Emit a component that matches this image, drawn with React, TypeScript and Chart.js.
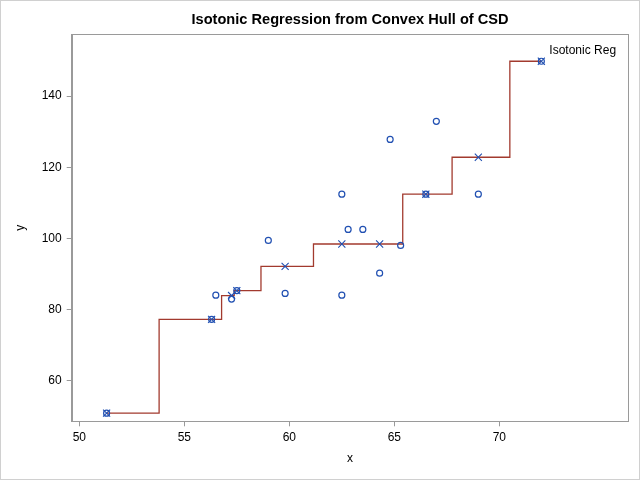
import React, { useEffect, useRef } from "react";
import { Chart, registerables } from "chart.js";

Chart.register(...registerables);

const titleText = "Isotonic Regression from Convex Hull of CSD";
const curveLabel = "Isotonic Reg";

const obsX = [51.3, 56.3, 56.5, 57.25, 57.5, 59.0, 59.8, 62.5, 62.5, 62.8, 63.5, 64.3, 64.8, 65.3, 66.5, 67.0, 69.0, 72.0];
const obsY = [50.8, 77.2, 84.0, 82.9, 85.3, 99.4, 84.5, 112.4, 84.0, 102.5, 102.5, 90.2, 127.8, 98.0, 112.4, 132.9, 112.4, 149.8];

const fitX = [51.3, 56.3, 57.25, 57.5, 59.8, 62.5, 64.3, 66.5, 69.0, 72.0];
const fitY = [50.8, 77.2, 83.9, 85.3, 92.1, 98.4, 98.4, 112.4, 122.8, 149.8];

const xTicks = [50, 55, 60, 65, 70];
const yTicks = [60, 80, 100, 120, 140];

const FONT = "'Liberation Sans', Arial, sans-serif";
const BLUE = "#2150B2";
const RED = "#A23A2E";
const GRAY = "#9a9a9a";

export default function App() {
  const ref = useRef<HTMLCanvasElement | null>(null);

  useEffect(() => {
    document.body.style.margin = "0";
    const canvas = ref.current;
    if (!canvas) return;

    const framePlugin = {
      id: "frame",
      afterDraw(chart: any) {
        const { ctx, chartArea } = chart;
        ctx.save();
        ctx.strokeStyle = GRAY;
        ctx.lineWidth = 1;
        ctx.strokeRect(
          Math.round(chartArea.left) + 0.5,
          Math.round(chartArea.top) + 0.5,
          Math.round(chartArea.right - chartArea.left) - 1,
          Math.round(chartArea.bottom - chartArea.top)
        );
        ctx.strokeStyle = "#d0d0d0";
        ctx.strokeRect(0.5, 0.5, chart.width - 1, chart.height - 1);
        const xs = chart.scales.x;
        const ys = chart.scales.y;
        const lx = xs.getPixelForValue(fitX[fitX.length - 1]);
        const ly = ys.getPixelForValue(fitY[fitY.length - 1]);
        ctx.fillStyle = "#000";
        ctx.font = `12px ${FONT}`;
        ctx.textAlign = "left";
        ctx.textBaseline = "middle";
        ctx.fillText(curveLabel, lx + 8, ly - 11);
        ctx.restore();
      },
    };

    const chart = new Chart(canvas, {
      type: "scatter",
      data: {
        datasets: [
          {
            label: "Observed",
            data: obsX.map((x, i) => ({ x, y: obsY[i] })),
            pointStyle: "circle",
            pointRadius: 3,
            borderColor: BLUE,
            backgroundColor: "rgba(0,0,0,0)",
            borderWidth: 1.2,
          } as any,
          {
            label: "Fitted",
            data: fitX.map((x, i) => ({ x, y: fitY[i] })),
            pointStyle: "crossRot",
            pointRadius: 5,
            borderColor: BLUE,
            backgroundColor: BLUE,
            borderWidth: 1.1,
          } as any,
          {
            type: "line",
            label: curveLabel,
            data: fitX.map((x, i) => ({ x, y: fitY[i] })),
            stepped: "middle",
            borderColor: RED,
            borderWidth: 1.3,
            pointRadius: 0,
            fill: false,
          } as any,
        ],
      },
      options: {
        responsive: false,
        animation: false,
        devicePixelRatio: 1,
        layout: { padding: { left: 0, right: 11.7, top: 0, bottom: 0 } },
        plugins: {
          legend: { display: false },
          tooltip: { enabled: false },
          title: {
            display: true,
            text: titleText,
            fullSize: false,
            color: "#000",
            font: { family: FONT, size: 14.6, weight: "bold", lineHeight: 1.2 },
            padding: { top: 11, bottom: 5.8 },
          },
        },
        scales: {
          x: {
            type: "linear",
            min: 49.638,
            max: 76.14,
            afterFit(scale: any) {
              scale.height = 58.7;
            },
            afterBuildTicks(scale: any) {
              scale.ticks = xTicks.map((v) => ({ value: v }));
            },
            grid: {
              display: true,
              drawOnChartArea: false,
              drawTicks: true,
              tickLength: 5,
              color: GRAY,
            },
            border: { display: true, color: GRAY, width: 1 },
            ticks: {
              color: "#000",
              padding: 4,
              font: { family: FONT, size: 12 },
              maxRotation: 0,
            },
            title: {
              display: true,
              text: "x",
              color: "#000",
              font: { family: FONT, size: 12 },
              padding: { top: 0, bottom: 13.8 },
            },
          },
          y: {
            type: "linear",
            min: 48.52,
            max: 157.38,
            afterFit(scale: any) {
              scale.width = 71.7;
            },
            afterBuildTicks(scale: any) {
              scale.ticks = yTicks.map((v) => ({ value: v }));
            },
            grid: {
              display: true,
              drawOnChartArea: false,
              drawTicks: true,
              tickLength: 5,
              color: GRAY,
            },
            border: { display: true, color: GRAY, width: 1 },
            ticks: {
              color: "#000",
              padding: 5,
              font: { family: FONT, size: 12 },
            },
            title: {
              display: true,
              text: "y",
              color: "#000",
              font: { family: FONT, size: 12 },
              padding: { top: 13.5, bottom: 0 },
            },
          },
        },
      },
      plugins: [framePlugin],
    });

    return () => chart.destroy();
  }, []);

  return <canvas ref={ref} width={640} height={480} style={{ display: "block" }} />;
}
